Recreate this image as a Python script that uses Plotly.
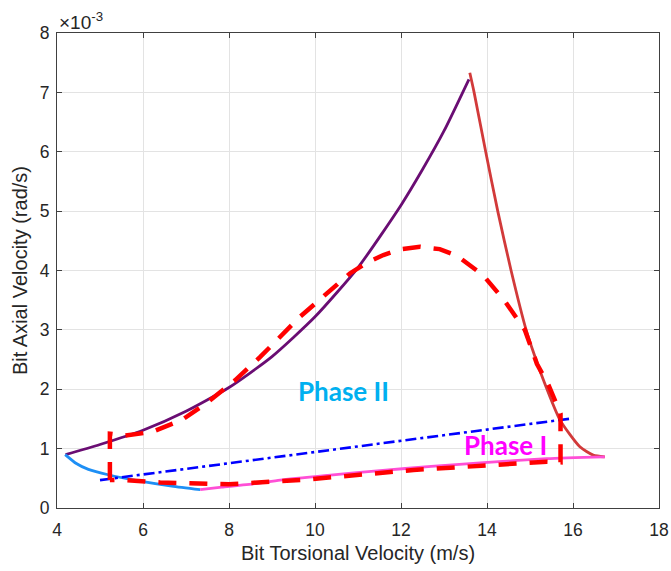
import plotly.graph_objects as go

# Axial velocity values are given in units of 1e-3 rad/s (see the axis multiplier)

# Phase I rise: torsional velocity vs axial velocity
purple_x = [4.20, 5.00, 6.00, 7.00, 8.00, 9.00, 10.00, 11.00, 12.00, 12.50, 13.00, 13.58]
purple_y = [0.90, 1.07, 1.31, 1.63, 2.03, 2.55, 3.22, 4.05, 5.10, 5.70, 6.35, 7.22]

# Descent after the peak
brown_x = [13.60, 13.70, 13.97, 14.25, 14.56, 14.91, 15.10, 15.31, 15.70, 16.16, 16.47, 16.74]
brown_y = [7.33, 7.00, 6.00, 5.00, 4.00, 3.00, 2.58, 2.16, 1.48, 1.03, 0.89, 0.86]

# Phase II lower branch
blue_x = [4.19, 4.45, 4.73, 5.19, 5.97, 6.67, 7.33]
blue_y = [0.90, 0.75, 0.65, 0.56, 0.45, 0.37, 0.31]

# Phase I lower branch
pink_x = [7.33, 7.83, 8.60, 9.19, 10.30, 11.51, 12.70, 13.84, 15.39, 16.74]
pink_y = [0.31, 0.35, 0.41, 0.47, 0.55, 0.63, 0.70, 0.76, 0.83, 0.86]

# Boundary line between phases
boundary_x = [5.0, 16.0]
boundary_y = [0.47, 1.51]

# Closed limit cycle (dashed)
cycle_x = [5.23, 5.23, 5.58, 6.20, 6.90, 7.52, 8.14, 8.72, 9.65, 10.43, 10.81, 11.20, 11.59,
           12.00, 12.44, 12.90, 13.30, 13.91, 14.40, 14.88, 15.16, 15.43, 15.71, 15.71,
           15.39, 12.29, 9.81, 8.00, 6.40, 5.62, 5.23]
cycle_y = [0.47, 1.25, 1.22, 1.28, 1.48, 1.79, 2.15, 2.54, 3.22, 3.72, 3.95, 4.13, 4.26,
           4.36, 4.40, 4.36, 4.25, 3.92, 3.50, 3.00, 2.43, 2.07, 1.59, 0.77,
           0.78, 0.64, 0.48, 0.40, 0.43, 0.47, 0.47]

x_ticks = [4, 6, 8, 10, 12, 14, 16, 18]
y_ticks = [0, 1, 2, 3, 4, 5, 6, 7, 8]

fig = go.Figure()

def curve(x, y, color, width=2.8, dash="solid", shape="spline"):
    fig.add_trace(go.Scatter(
        x=x, y=y, mode="lines",
        line=dict(color=color, width=width, dash=dash, shape=shape, smoothing=0.6),
        hoverinfo="skip", showlegend=False))

curve(purple_x, purple_y, "#6a0d73")
curve(brown_x, brown_y, "#d23a3a")
curve(blue_x, blue_y, "#1e8ff5")
curve(pink_x, pink_y, "#ff4fd6")
curve(boundary_x, boundary_y, "#0000ff", width=2.6, dash="11px,4px,3px,4px", shape="linear")
curve(cycle_x, cycle_y, "#ff0000", width=4.5, dash="18px,13px", shape="linear")

fig.add_annotation(x=10.67, y=1.97, xref="x", yref="y", text="<b>Phase II</b>",
                   showarrow=False, font=dict(family="Lato", size=26, color="#00b0f0"))
fig.add_annotation(x=14.42, y=1.06, xref="x", yref="y", text="<b>Phase I</b>",
                   showarrow=False, font=dict(family="Lato", size=26, color="#ff00ff"))
fig.add_annotation(x=0, y=1, xref="paper", yref="paper", xanchor="left", yanchor="bottom",
                   yshift=-2, text="×10<sup>-3</sup>", showarrow=False,
                   font=dict(family="Liberation Sans", size=19, color="#262626"))

axis_common = dict(
    showgrid=True, gridcolor="#e3e3e3", gridwidth=1,
    showline=True, linecolor="#404040", linewidth=1.2, mirror="ticks",
    ticks="inside", ticklen=5, tickcolor="#404040", zeroline=False,
    tickfont=dict(family="Liberation Sans", size=17.5, color="#262626"),
)

fig.update_xaxes(range=[4, 18], tickvals=x_ticks, ticktext=[str(v) for v in x_ticks],
                 ticklabelstandoff=6,
                 title=dict(text="Bit Torsional Velocity (m/s)", standoff=6,
                            font=dict(family="Liberation Sans", size=20, color="#262626")),
                 **axis_common)
fig.update_yaxes(range=[0, 8], tickvals=y_ticks, ticktext=[str(v) for v in y_ticks],
                 ticklabelstandoff=3,
                 title=dict(text="Bit Axial Velocity (rad/s)", standoff=6,
                            font=dict(family="Liberation Sans", size=20, color="#262626")),
                 **axis_common)

fig.update_layout(width=671, height=571, margin=dict(l=57, r=12, t=33, b=63, autoexpand=False),
                  plot_bgcolor="white", paper_bgcolor="white")

fig.write_html("out.html")
